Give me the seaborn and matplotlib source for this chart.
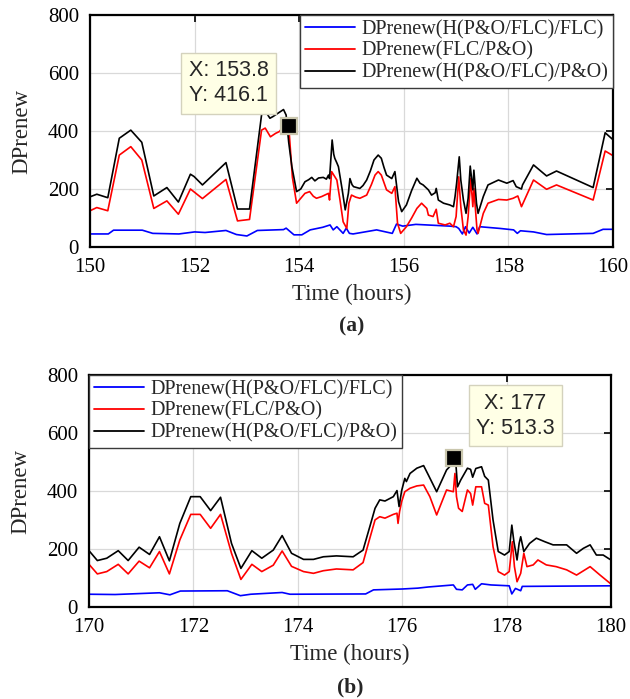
import numpy as np
import pandas as pd
import matplotlib
matplotlib.use("Agg")
import matplotlib.pyplot as plt
import seaborn as sns
from matplotlib.lines import Line2D

# ---------------- data: panel (a), 150-160 h ----------------
t_a_blue = [150.00, 150.35, 150.45, 151.00, 151.20, 151.70, 152.00, 152.20, 152.60, 152.80,
            153.00, 153.20, 153.70, 153.75, 153.90, 154.05, 154.21, 154.45, 154.59, 154.65,
            154.72, 154.84, 154.90, 154.96, 155.03, 155.48, 155.78, 155.86, 155.98, 156.23,
            156.88, 157.00, 157.05, 157.12, 157.18, 157.25, 157.32, 157.40, 157.45, 157.84,
            158.10, 158.17, 158.23, 158.48, 158.73, 159.62, 159.81, 160.00]
v_a_blue = [45, 45, 58, 58, 47, 45, 52, 50, 57, 43,
            38, 57, 60, 65, 42, 42, 59, 68, 76, 59,
            70, 47, 65, 47, 45, 59, 47, 79, 72, 78,
            72, 70, 64, 45, 70, 48, 68, 45, 70, 64,
            59, 47, 56, 52, 43, 47, 61, 61]

t_a_red = [150.00, 150.13, 150.34, 150.56, 150.78, 150.99, 151.22, 151.47, 151.69, 151.92,
           152.15, 152.60, 152.82, 153.05, 153.28, 153.35, 153.45, 153.55, 153.62, 153.72,
           153.80, 153.87, 153.95, 154.03, 154.11, 154.20, 154.27, 154.33, 154.43, 154.50,
           154.56, 154.58, 154.62, 154.72, 154.78, 154.84, 154.91, 154.95, 155.00, 155.08,
           155.16, 155.29, 155.38, 155.45, 155.51, 155.57, 155.67, 155.77, 155.83, 155.88,
           155.94, 156.05, 156.15, 156.25, 156.34, 156.44, 156.47, 156.56, 156.62, 156.66,
           156.79, 156.88, 156.95, 157.00, 157.05, 157.09, 157.14, 157.19, 157.23, 157.28,
           157.32, 157.34, 157.40, 157.42, 157.52, 157.61, 157.81, 157.97, 158.09, 158.18,
           158.25, 158.48, 158.73, 158.92, 159.62, 159.85, 160.00]
v_a_red = [125, 136, 125, 317, 346, 300, 133, 159, 113, 200,
           167, 233, 90, 95, 403, 410, 380, 392, 398, 420,
           416.1, 240, 151, 168, 185, 191, 175, 168, 174, 180,
           185, 162, 260, 231, 162, 87, 64, 151, 179, 172,
           168, 179, 215, 248, 260, 248, 197, 185, 208, 82,
           47, 70, 100, 133, 151, 133, 110, 105, 130, 82,
           76, 82, 70, 105, 242, 139, 59, 41, 105, 237,
           139, 202, 59, 47, 116, 151, 164, 162, 168, 176,
           139, 231, 199, 214, 162, 331, 315]

t_a_black = [150.00, 150.13, 150.34, 150.56, 150.78, 150.99, 151.22, 151.47, 151.69, 151.92,
             151.99, 152.15, 152.60, 152.82, 153.05, 153.28, 153.34, 153.44, 153.50, 153.60,
             153.70, 153.75, 153.80, 153.86, 153.95, 154.03, 154.11, 154.18, 154.24, 154.30,
             154.37, 154.46, 154.52, 154.56, 154.58, 154.63, 154.66, 154.68, 154.72, 154.75,
             154.82, 154.88, 154.94, 154.97, 155.01, 155.04, 155.16, 155.22, 155.29, 155.36,
             155.43, 155.51, 155.57, 155.62, 155.67, 155.77, 155.83, 155.90, 155.96, 156.05,
             156.15, 156.25, 156.31, 156.37, 156.47, 156.53, 156.60, 156.62, 156.66, 156.76,
             156.88, 156.95, 156.98, 157.01, 157.06, 157.09, 157.14, 157.19, 157.23, 157.27,
             157.32, 157.34, 157.39, 157.42, 157.52, 157.61, 157.81, 157.97, 158.09, 158.15,
             158.25, 158.27, 158.48, 158.73, 158.92, 159.62, 159.85, 160.00]
v_a_black = [173, 182, 170, 375, 403, 361, 176, 205, 155, 251,
             243, 214, 291, 131, 131, 455, 472, 444, 450, 462,
             474, 455, 360, 277, 191, 200, 225, 232, 240, 228,
             238, 240, 234, 248, 236, 369, 320, 306, 290, 277,
             200, 128, 185, 236, 215, 208, 202, 212, 231, 262,
             300, 317, 306, 275, 248, 236, 260, 156, 122, 145,
             195, 237, 220, 214, 197, 179, 187, 202, 162, 151,
             145, 139, 174, 220, 311, 231, 162, 116, 168, 279,
             197, 265, 151, 116, 174, 214, 231, 220, 229, 208,
             200, 214, 283, 245, 262, 205, 394, 370]

# ---------------- data: panel (b), 170-180 h ----------------
t_b_blue = [170.00, 170.50, 171.35, 171.55, 171.75, 172.65, 172.90, 173.10, 173.70, 173.85,
            175.30, 175.45, 176.00, 176.30, 176.50, 176.98, 177.04, 177.15, 177.25, 177.35,
            177.40, 177.52, 177.70, 178.05, 178.10, 178.17, 178.27, 178.30, 179.98]
v_b_blue = [45, 44, 50, 43, 56, 57, 40, 45, 51, 45,
            46, 60, 63, 66, 70, 77, 62, 60, 77, 79,
            62, 81, 77, 74, 46, 65, 57, 72, 74]

t_b_red = [170.00, 170.16, 170.34, 170.56, 170.75, 170.96, 171.16, 171.35, 171.54, 171.74,
           171.95, 172.13, 172.33, 172.52, 172.73, 172.91, 173.12, 173.31, 173.53, 173.70,
           173.88, 174.11, 174.30, 174.49, 174.74, 175.06, 175.25, 175.38, 175.48, 175.57,
           175.67, 175.83, 175.90, 175.92, 175.95, 175.99, 176.05, 176.15, 176.28, 176.41,
           176.53, 176.66, 176.85, 176.98, 177.01, 177.04, 177.08, 177.15, 177.25, 177.31,
           177.35, 177.41, 177.52, 177.58, 177.65, 177.74, 177.84, 177.96, 178.05, 178.11,
           178.15, 178.20, 178.27, 178.33, 178.39, 178.51, 178.60, 178.76, 178.95, 179.15,
           179.34, 179.60, 179.79, 179.98]
v_b_red = [148, 115, 123, 148, 115, 159, 136, 192, 115, 232,
           320, 320, 272, 320, 186, 96, 148, 123, 145, 194,
           141, 123, 117, 126, 132, 129, 154, 238, 301, 312,
           307, 320, 324, 289, 330, 364, 398, 410, 418, 421,
           381, 318, 404, 398, 461, 381, 341, 330, 404, 392,
           352, 415, 415, 358, 352, 209, 123, 111, 123, 226,
           140, 88, 117, 186, 140, 146, 163, 146, 140, 129,
           111, 140, 111, 83]

t_b_black = [170.00, 170.16, 170.34, 170.56, 170.75, 170.96, 171.16, 171.35, 171.54, 171.74,
             171.95, 172.13, 172.33, 172.52, 172.73, 172.91, 173.12, 173.31, 173.53, 173.70,
             173.88, 174.11, 174.30, 174.49, 174.74, 175.06, 175.25, 175.38, 175.48, 175.57,
             175.67, 175.83, 175.90, 175.94, 175.99, 176.05, 176.08, 176.15, 176.28, 176.41,
             176.50, 176.66, 176.85, 176.98, 177.00, 177.03, 177.06, 177.12, 177.25, 177.31,
             177.35, 177.41, 177.52, 177.58, 177.65, 177.74, 177.84, 177.96, 178.05, 178.10,
             178.14, 178.20, 178.24, 178.27, 178.33, 178.44, 178.57, 178.73, 178.89, 179.15,
             179.34, 179.47, 179.60, 179.72, 179.85, 179.98]
v_b_black = [195, 161, 169, 195, 161, 207, 182, 243, 160, 289,
             381, 381, 333, 379, 220, 134, 195, 169, 197, 247,
             186, 165, 165, 174, 177, 174, 197, 278, 341, 370,
             366, 381, 402, 347, 402, 444, 433, 461, 479, 488,
             456, 398, 473, 498, 513.3, 490, 415, 438, 479, 475,
             448, 478, 484, 451, 438, 301, 192, 180, 192, 283,
             226, 163, 220, 243, 192, 220, 238, 226, 215, 215,
             186, 203, 215, 180, 180, 165]

series_names = ["DPrenew(H(P&O/FLC)/FLC)", "DPrenew(FLC/P&O)", "DPrenew(H(P&O/FLC)/P&O)"]
series_colors = ["#0000ff", "#ff0000", "#000000"]

# data tips: (x, y) of the marked point
tip_a = (153.8, 416.1)
tip_b = (177.0, 513.3)


def frame(ts, vs):
    parts = []
    for name, t, v in zip(series_names, ts, vs):
        parts.append(pd.DataFrame({"t": t, "v": v, "series": name}))
    return pd.concat(parts, ignore_index=True)


df_a = frame([t_a_blue, t_a_red, t_a_black], [v_a_blue, v_a_red, v_a_black])
df_b = frame([t_b_blue, t_b_red, t_b_black], [v_b_blue, v_b_red, v_b_black])

sns.set_style("white")
plt.rcParams["font.family"] = ["Liberation Serif", "DejaVu Serif"]

fig = plt.figure(figsize=(6.30, 6.99), dpi=100)
ax_a = fig.add_axes([90 / 630, 1 - 247 / 699, 523 / 630, 232 / 699])
ax_b = fig.add_axes([89 / 630, 1 - 607.3 / 699, 522 / 630, 232.3 / 699])

palette = dict(zip(series_names, series_colors))


def draw(ax, df, xlim, tip, tip_center, legend_loc, panel):
    sns.lineplot(data=df, x="t", y="v", hue="series", hue_order=series_names,
                 palette=palette, estimator=None, sort=False, lw=1.2,
                 legend=False, ax=ax)
    ax.set_xlim(*xlim)
    ax.set_ylim(0, 800)
    ax.set_xticks(np.arange(xlim[0], xlim[1] + 1, 2))
    ax.set_yticks([0, 200, 400, 600, 800])
    ax.grid(True, color="#d9d9d9", lw=0.9)
    ax.set_axisbelow(True)
    for s in ax.spines.values():
        s.set_color("black")
        s.set_linewidth(1.6)
    ax.tick_params(direction="in", top=True, right=True, length=5, width=1.2,
                   labelsize=15, pad=8, colors="black")
    ax.set_xlabel("Time (hours)", fontsize=16.5, labelpad=5)
    ax.set_ylabel("DPrenew", fontsize=16.5, labelpad=11)

    handles = [Line2D([], [], color=c, lw=1.3) for c in series_colors]
    leg = ax.legend(handles, series_names, loc=legend_loc, fontsize=14.5,
                    frameon=True, fancybox=False, framealpha=1,
                    edgecolor="#3a3a3a", borderaxespad=0, borderpad=0.25,
                    labelspacing=0.12, handlelength=2.5, handletextpad=0.3)
    leg.get_frame().set_linewidth(1.0)

    # data tip marker and box
    ax.plot([tip[0]], [tip[1]], marker="s", ms=12, mfc="black",
            mec="#c9c6ad", mew=1.6, zorder=6, clip_on=False)
    ax.text(tip_center[0], tip_center[1], f"X: {tip[0]:g}\nY: {tip[1]:g}",
            ha="center", va="center", fontsize=15.5, linespacing=1.25,
            family=["Liberation Sans", "DejaVu Sans"], zorder=7,
            bbox=dict(boxstyle="square,pad=0.35", fc="#ffffe6", ec="#d4d2bd", lw=1.0))

    fig.text(ax.get_position().x0 + ax.get_position().width / 2, panel[1], panel[0],
             ha="center", va="center", fontsize=15.5, fontweight="bold")


draw(ax_a, df_a, (150, 160), tip_a, (152.65, 564), "upper right", ("(a)", 1 - 326 / 699))
draw(ax_b, df_b, (170, 180), tip_b, (178.17, 659), "upper left", ("(b)", 1 - 687 / 699))

fig.savefig("out.png", dpi=100)
